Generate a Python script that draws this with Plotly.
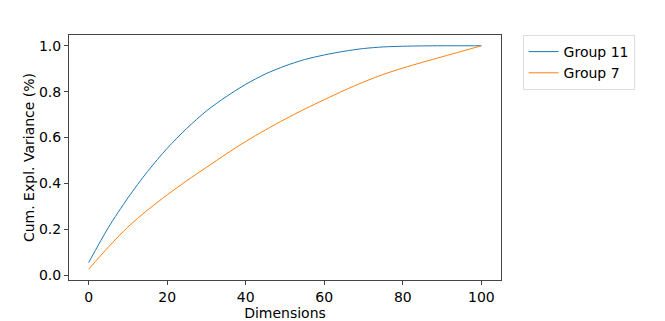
import plotly.graph_objects as go

# Données (tous les 5 composants)
dimensions = [0, 5, 10, 15, 20, 25, 30, 35, 40, 45, 50,
              55, 60, 65, 70, 75, 80, 85, 90, 95, 100]
var_group11 = [0.055, 0.207, 0.337, 0.452, 0.553, 0.640, 0.716, 0.778, 0.832, 0.877, 0.912,
               0.940, 0.960, 0.976, 0.988, 0.995, 0.998, 0.9995, 1.0, 1.0, 1.0]
var_group7 = [0.026, 0.122, 0.210, 0.284, 0.350, 0.412, 0.470, 0.528, 0.583, 0.633, 0.680,
              0.724, 0.765, 0.805, 0.842, 0.875, 0.903, 0.928, 0.952, 0.976, 1.0]
y_ticks = [0.0, 0.2, 0.4, 0.6, 0.8, 1.0]
x_ticks = [0, 20, 40, 60, 80, 100]

FONT = "DejaVu Sans"

fig = go.Figure()

fig.add_trace(go.Scatter(
    x         = dimensions,
    y         = var_group11,
    name      = "Group 11",
    mode      = "lines",
    line      = dict(color="#1f77b4", width=1, shape="spline", smoothing=0.8),
))
fig.add_trace(go.Scatter(
    x         = dimensions,
    y         = var_group7,
    name      = "Group 7",
    mode      = "lines",
    line      = dict(color="#ff7f0e", width=1, shape="spline", smoothing=0.8),
))

axis_common = dict(
    showgrid   = False,
    zeroline   = False,
    showline   = True,
    mirror     = True,
    automargin = False,
    linecolor  = "#444",
    linewidth  = 1,
    ticks      = "outside",
    ticklen    = 4,
    tickcolor  = "#444",
    tickfont   = dict(family=FONT, size=14, color="black"),
)

# la page HTML ajoute 8 px de marge autour du graphique
fig.update_layout(
    width         = 657,
    height        = 313,
    margin        = dict(l=61, r=164, t=27, b=41),
    paper_bgcolor = "white",
    plot_bgcolor  = "white",
    font          = dict(family=FONT, size=14, color="black"),
    xaxis = dict(
        **axis_common,
        range    = [-5, 105],
        tickvals = x_ticks,
        title    = dict(text="Dimensions", font=dict(family=FONT, size=14), standoff=2),
    ),
    yaxis = dict(
        **axis_common,
        range      = [-0.021, 1.047],
        tickvals   = y_ticks,
        tickformat = ".1f",
        title      = dict(text="Cum. Expl. Variance (%)", font=dict(family=FONT, size=14), standoff=1),
    ),
    showlegend = True,
    legend = dict(
        x           = 1.05,
        y           = 1.0,
        xanchor     = "left",
        yanchor     = "top",
        bordercolor = "#ddd",
        borderwidth = 1,
        bgcolor     = "white",
        itemwidth   = 30,
        font        = dict(family=FONT, size=14, color="black"),
        tracegroupgap = 0,
    ),
)

fig.write_html("out.html")
